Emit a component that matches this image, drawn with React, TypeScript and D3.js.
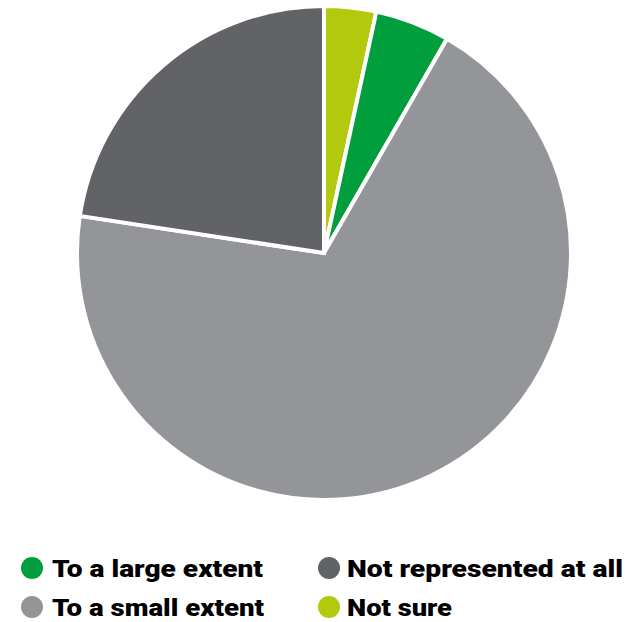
import React from "react";
import * as d3 from "d3";

const categories = ["Not sure", "To a large extent", "To a small extent", "Not represented at all"];
const values = [3.4, 4.9, 69.1, 22.6];
const colors = ["#b2c90d", "#009e3d", "#939598", "#626366"];

const legendOrder = ["To a large extent", "Not represented at all", "To a small extent", "Not sure"];
const legendWidths = [211, 276, 212, 105];

export default function App() {
  const W = 638, H = 622;
  const cx = 324, cy = 253, r = 247;
  const data = categories.map((c, i) => ({ c, v: values[i], color: colors[i] }));
  const pie = d3.pie<any>().value((d) => d.v).sort(null);
  const arc = d3.arc<any>().innerRadius(0).outerRadius(r);
  const arcs = pie(data);
  const colorOf = (c: string) => colors[categories.indexOf(c)];
  return (
    <svg width={W} height={H} style={{ position: "absolute", left: 0, top: 0 }}>
      <g transform={`translate(${cx},${cy})`}>
        {arcs.map((a, i) => (
          <path key={i} d={arc(a) as string} fill={a.data.color} stroke="#fff" strokeWidth={4} strokeLinejoin="miter" />
        ))}
      </g>
      {legendOrder.map((c, i) => {
        const col = i % 2, row = Math.floor(i / 2);
        const x = col === 0 ? 32 : 329;
        const y = row === 0 ? 568 : 607;
        return (
          <g key={c}>
            <circle cx={x} cy={y} r={11} fill={colorOf(c)} />
            <text x={col === 0 ? 52 : 347} y={y + 9} fontFamily="Roboto, sans-serif" fontWeight={900} fontSize={23}
              textLength={legendWidths[i]} lengthAdjust="spacingAndGlyphs" fill="#000">{c}</text>
          </g>
        );
      })}
    </svg>
  );
}
